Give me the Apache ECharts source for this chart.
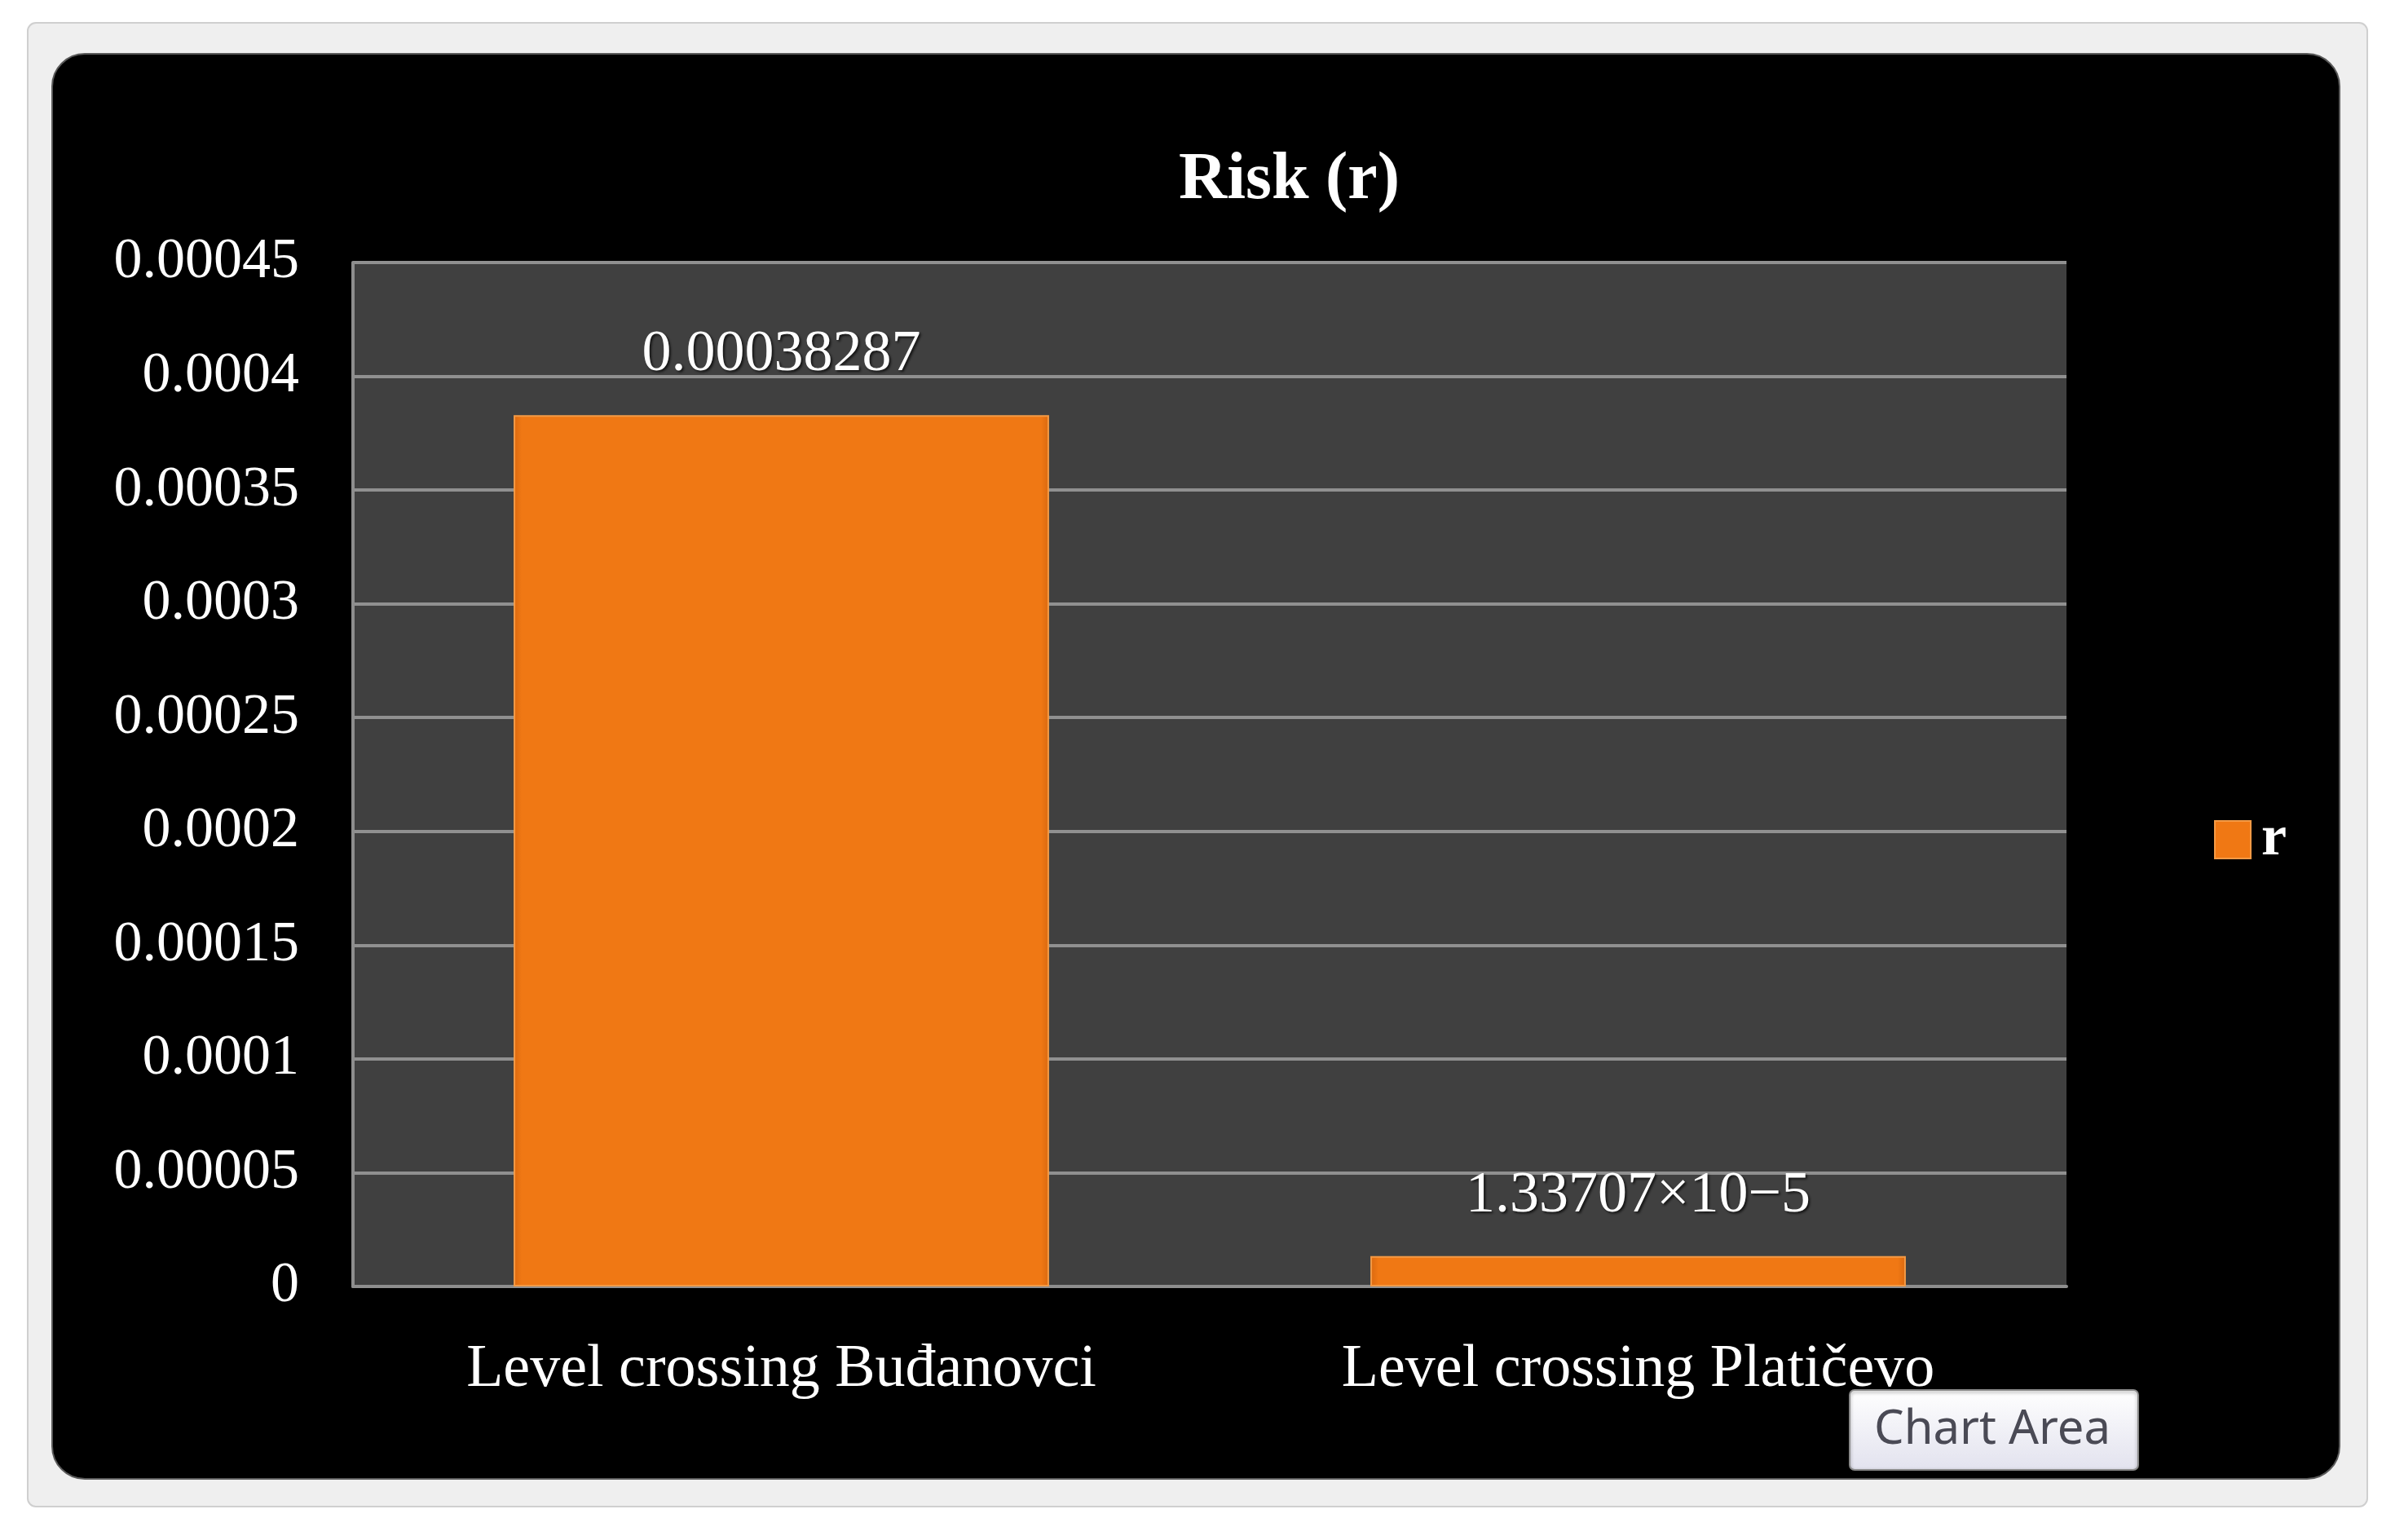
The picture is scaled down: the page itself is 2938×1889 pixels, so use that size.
<!DOCTYPE html>
<html>
<head>
<meta charset="utf-8">
<script src="https://cdn.jsdelivr.net/npm/echarts@6/dist/echarts.min.js"></script>
<style>
html, body { margin: 0; padding: 0; background: #fff; }
#main { width: 2938px; height: 1889px; }
</style>
</head>
<body>
<div id="main"></div>
<script>
// 数据
var categories = ['Level crossing Buđanovci', 'Level crossing Platičevo'];
var riskValues = [0.00038287, 0.0000133707];
var valueLabels = ['0.00038287', '1.33707×10−5'];
var yTickLabels = ['0', '0.00005', '0.0001', '0.00015', '0.0002', '0.00025', '0.0003', '0.00035', '0.0004', '0.00045'];
var seriesName = 'r';

var serif = '"Liberation Serif", "DejaVu Serif", serif';
var shadow = {
    textShadowColor: 'rgba(0,0,0,0.7)',
    textShadowBlur: 3,
    textShadowOffsetX: 2,
    textShadowOffsetY: 2
};

var myChart = echarts.init(document.getElementById('main'));

var option = {
    backgroundColor: '#ffffff',
    animation: false,
    // 外框 + 黑色图表区 + "Chart Area" 提示
    graphic: [
        {
            type: 'rect',
            z: -20,
            shape: { x: 34, y: 28, width: 2870, height: 1820, r: 10 },
            style: { fill: '#efefef', stroke: '#cfcfcf', lineWidth: 2 }
        },
        {
            type: 'rect',
            z: -19,
            shape: { x: 64, y: 66, width: 2806, height: 1748, r: 40 },
            style: { fill: '#000000', stroke: '#5a5a5a', lineWidth: 2 }
        },
        {
            type: 'group',
            z: 100,
            x: 2269,
            y: 1705,
            children: [
                {
                    type: 'rect',
                    shape: { x: 0, y: 0, width: 354, height: 98, r: 6 },
                    style: {
                        fill: new echarts.graphic.LinearGradient(0, 0, 0, 1, [
                            { offset: 0, color: '#ffffff' },
                            { offset: 1, color: '#e2e2ee' }
                        ]),
                        stroke: '#8a8a8a',
                        lineWidth: 2,
                        shadowColor: 'rgba(0,0,0,0.4)',
                        shadowBlur: 4,
                        shadowOffsetY: 2
                    }
                },
                {
                    type: 'text',
                    x: 30,
                    y: 49,
                    style: {
                        text: 'Chart Area',
                        fill: '#4a4a55',
                        font: '58px "Noto Sans", "Open Sans", sans-serif',
                        verticalAlign: 'middle'
                    }
                }
            ]
        }
    ],

    title: {
        text: 'Risk (r)',
        left: 1441,
        top: 176,
        textStyle: Object.assign({
            color: '#ffffff',
            fontFamily: serif,
            fontWeight: 'bold',
            fontSize: 82
        }, shadow)
    },

    legend: {
        orient: 'vertical',
        left: 2711,
        top: 990,
        icon: 'rect',
        itemWidth: 44,
        itemHeight: 46,
        itemGap: 14,
        data: [seriesName],
        textStyle: Object.assign({
            color: '#ffffff',
            fontFamily: serif,
            fontSize: 70,
            fontWeight: 'bold',
            padding: [0, 0, 0, 8]
        }, shadow)
    },

    grid: {
        left: 433,
        top: 322,
        width: 2102,
        height: 1256,
        show: true,
        backgroundColor: '#404040',
        borderWidth: 0
    },

    xAxis: {
        type: 'category',
        data: categories,
        axisLine: { show: true, lineStyle: { color: '#8e8e8e', width: 4 } },
        axisTick: { show: false },
        axisLabel: Object.assign({
            color: '#ffffff',
            fontFamily: serif,
            fontSize: 74,
            margin: 66
        }, shadow)
    },

    yAxis: {
        type: 'value',
        min: 0,
        max: 0.00045,
        interval: 0.00005,
        axisLine: { show: true, lineStyle: { color: '#8e8e8e', width: 4 } },
        axisTick: { show: false },
        splitLine: { show: true, lineStyle: { color: '#909090', width: 4 } },
        axisLabel: Object.assign({
            color: '#ffffff',
            fontFamily: serif,
            fontSize: 70,
            margin: 66,
            formatter: function (value) {
                return yTickLabels[Math.round(value / 0.00005)];
            }
        }, shadow)
    },

    series: [
        {
            name: seriesName,
            type: 'bar',
            barWidth: '62.5%',
            data: riskValues,
            itemStyle: {
                color: new echarts.graphic.LinearGradient(0, 0, 1, 0, [
                    { offset: 0, color: '#d9680f' },
                    { offset: 0.015, color: '#f07814' },
                    { offset: 0.985, color: '#f07814' },
                    { offset: 1, color: '#d9680f' }
                ]),
                borderColor: '#f49a45',
                borderWidth: 2
            },
            label: Object.assign({
                show: true,
                position: 'top',
                distance: 38,
                color: '#ffffff',
                fontFamily: serif,
                fontSize: 72,
                formatter: function (p) {
                    return valueLabels[p.dataIndex];
                }
            }, shadow)
        }
    ]
};

myChart.setOption(option);
window.onresize = myChart.resize;
</script>
</body>
</html>
